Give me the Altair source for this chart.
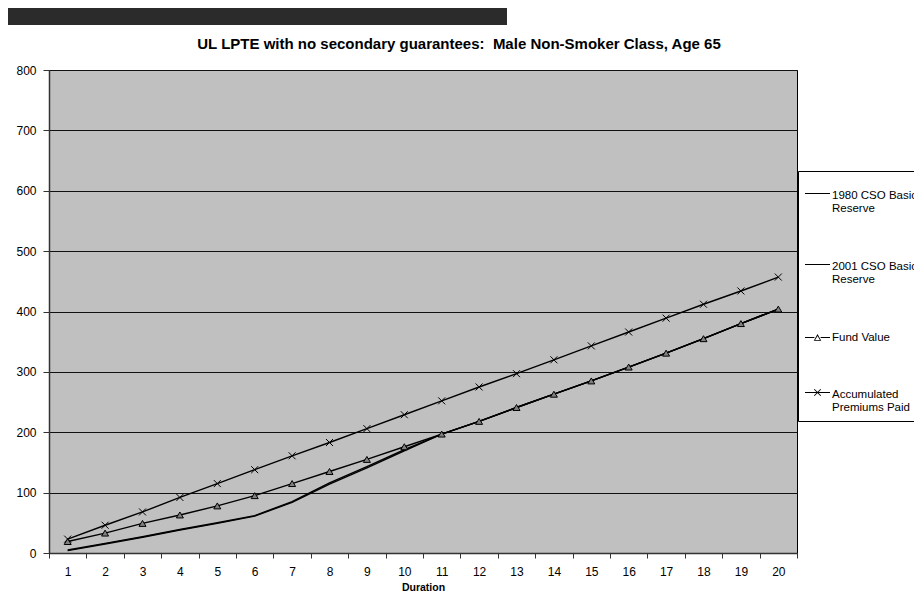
import altair as alt
import pandas as pd

# ---------------- data ----------------
durations = list(range(1, 21))
cso1980 = [5, 16, 27, 39, 50, 62, 85, 116, 143, 171, 197, 218, 241, 263, 285, 308, 331, 355, 380, 404]
cso2001 = [4, 15, 26, 38, 49, 61, 84, 114, 141, 169, 197, 218, 241, 263, 285, 308, 331, 355, 380, 404]
fund_value = [19, 33, 49, 63, 78, 95, 115, 135, 155, 176, 197, 218, 241, 263, 285, 308, 331, 355, 380, 404]
acc_premiums = [23, 46, 68, 92, 115, 138, 161, 183, 206, 229, 252, 275, 297, 320, 343, 366, 389, 412, 434, 457]

series_names = [
    "1980 CSO Basic Reserve",
    "2001 CSO Basic Reserve",
    "Fund Value",
    "Accumulated Premiums Paid",
]
series_values = [cso1980, cso2001, fund_value, acc_premiums]
y_ticks = [0, 100, 200, 300, 400, 500, 600, 700, 800]

title_text = "UL LPTE with no secondary guarantees:\u00a0 Male Non-Smoker Class, Age 65"

rows = []
for name, vals in zip(series_names, series_values):
    for d, v in zip(durations, vals):
        rows.append({"Duration": d, "Value": v, "Series": name})
df = pd.DataFrame(rows)

FONT = "Liberation Sans"

# marker paths (unit box -1..1)
TRI = "M-1,0.85L0,-0.85L1,0.85Z"
XMARK = "M-1,-1L1,1M-1,1L1,-1"

# legend symbols drawn as filled outlines (line + marker)
LEG_LINE_UP = "M-1,-0.2L1,-0.2L1,-0.12L-1,-0.12Z"
LEG_TRI = (
    "M-1,-0.04L-0.25,-0.04L-0.25,0.04L-1,0.04Z"
    "M0.25,-0.04L1,-0.04L1,0.04L0.25,0.04Z"
    "M-0.3,0.26L0,-0.28L0.3,0.26Z"
    "M-0.19,0.19L0.19,0.19L0,-0.13Z"
)
LEG_X = (
    "M-1,-0.2L1,-0.2L1,-0.12L-1,-0.12Z"
    "M-0.232,-0.448L0.288,0.072L0.232,0.128L-0.288,-0.392Z"
    "M-0.288,0.072L0.232,-0.448L0.288,-0.392L-0.232,0.128Z"
)

x_enc = alt.X(
    "Duration:O",
    bandPosition=0.5,
    scale=alt.Scale(type="band", paddingInner=0, paddingOuter=0),
    axis=alt.Axis(
        title="Duration",
        labelAngle=0,
        tickBand="extent",
        grid=False,
        tickSize=5,
        labelPadding=8,
        labelFontSize=12,
        titleFontSize=10.5,
        titleFontWeight="bold",
        titlePadding=5,
    ),
)
y_enc = alt.Y(
    "Value:Q",
    scale=alt.Scale(domain=[0, 800], nice=False, zero=True),
    axis=alt.Axis(
        title=None,
        values=y_ticks,
        grid=True,
        gridColor="#111111",
        gridWidth=1,
        tickSize=6,
        labelPadding=7,
        labelFontSize=12,
    ),
)

base = alt.Chart(df).encode(x=x_enc, y=y_enc)

lines = base.mark_line(color="black").encode(
    detail="Series:N",
    strokeWidth=alt.StrokeWidth(
        "Series:N",
        scale=alt.Scale(domain=series_names, range=[1.4, 1.4, 1.1, 1.1]),
        legend=None,
    ),
)

markers = base.transform_filter(
    alt.FieldOneOfPredicate(field="Series", oneOf=[series_names[2], series_names[3]])
).mark_point(filled=True, fill="#808080", stroke="black", strokeWidth=1, size=49, opacity=1).encode(
    shape=alt.Shape(
        "Series:N",
        scale=alt.Scale(domain=[series_names[2], series_names[3]], range=[TRI, XMARK]),
        legend=None,
    )
)

label_expr = (
    "datum.label == 'Fund Value' ? '\u2002\u2002Fund Value' : "
    "split(replace(replace(datum.label, ' Reserve', '|Reserve'), ' Premiums', '|Premiums'), '|')"
)

legend_def = alt.Legend(
    orient="none",
    legendX=749,
    legendY=101,
    title=" ",
    titleFontSize=2,
    titlePadding=3,
    fillColor="white",
    strokeColor="black",
    padding=7,
    rowPadding=39,
    symbolSize=625,
    symbolStrokeWidth=0,
    symbolFillColor="black",
    symbolOpacity=1,
    labelFont=FONT,
    labelFontSize=11.5,
    labelColor="black",
    labelLimit=400,
    labelOffset=2,
    labelExpr=label_expr,
)

legend_layer = base.transform_filter("false").mark_point(
    filled=True, color="black", strokeWidth=0, opacity=1
).encode(
    shape=alt.Shape(
        "Series:N",
        scale=alt.Scale(domain=series_names, range=[LEG_LINE_UP, LEG_LINE_UP, LEG_TRI, LEG_X]),
        legend=legend_def,
    ),
)

top_bar = alt.Chart(pd.DataFrame({"k": [0]})).mark_rect(color="#2b2b2b").encode(
    x=alt.value(-44), x2=alt.value(458), y=alt.value(-62), y2=alt.value(-45)
)

chart = (
    alt.layer(top_bar, lines, markers, legend_layer)
    .resolve_scale(shape="independent")
    .properties(
        width=748,
        height=483,
        title=alt.TitleParams(
            text=title_text,
            font=FONT,
            fontSize=15,
            fontWeight="bold",
            color="black",
            anchor="middle",
            dx=36,
            offset=-44,
        ),
        autosize=alt.AutoSizeParams(type="none"),
        padding={"left": 41, "top": 62, "right": 117, "bottom": 40},
        background="white",
    )
    .configure(font=FONT)
    .configure_view(fill="#c0c0c0", stroke="black", strokeWidth=1)
    .configure_axis(
        labelFont=FONT,
        titleFont=FONT,
        labelColor="black",
        titleColor="black",
        domainColor="#333333",
        domainWidth=1.5,
        tickColor="#333333",
        tickWidth=1,
    )
)

chart.save("out.html", embed_options={"renderer": "svg", "actions": False})
